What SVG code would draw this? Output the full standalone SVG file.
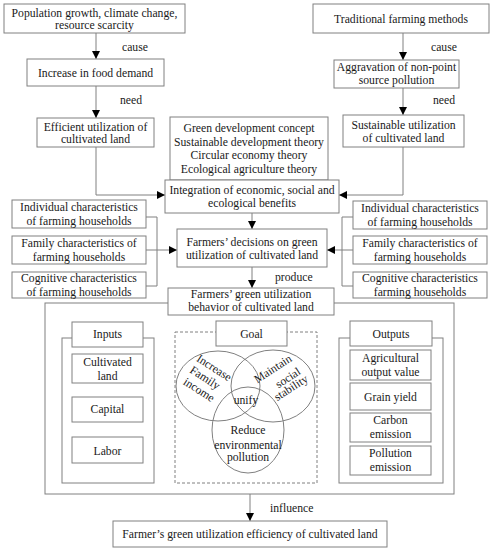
<svg xmlns="http://www.w3.org/2000/svg" width="492" height="550" viewBox="0 0 492 550">
<defs>
<marker id="arr" markerUnits="userSpaceOnUse" markerWidth="9" markerHeight="9" refX="8" refY="4" orient="auto">
<path d="M0,0 L8,4 L0,8 z" fill="#000"/>
</marker>
<style>
.b{fill:#fff;stroke:#808080;stroke-width:1}
.d{fill:none;stroke:#808080;stroke-width:1;stroke-dasharray:3,2}
.e{fill:none;stroke:#808080;stroke-width:1}
.c{fill:none;stroke:#808080;stroke-width:1}
.a{fill:none;stroke:#808080;stroke-width:1;marker-end:url(#arr)}
text{font-family:"Liberation Serif","Times New Roman",serif;font-size:11.7px;fill:#1a1a1a}
.m{text-anchor:middle}
</style>
</defs>
<rect width="492" height="550" fill="#fff"/>

<g id="connectors">
<line class="a" x1="96" y1="33" x2="96" y2="59"/>
<line class="a" x1="96" y1="86" x2="96" y2="118"/>
<line class="a" x1="403" y1="33" x2="403" y2="60"/>
<line class="a" x1="403" y1="88" x2="403" y2="115"/>
<polyline class="a" points="96,147 96,195 165,195"/>
<polyline class="a" points="403,147 403,195 339,195"/>
<line class="a" x1="252" y1="213" x2="252" y2="229"/>
<line class="a" x1="252" y1="267" x2="252" y2="288"/>
<polyline class="c" points="146,217 157,217 157,286 146,286"/>
<line class="a" x1="146" y1="250" x2="177" y2="250"/>
<polyline class="c" points="353,217 342,217 342,286 353,286"/>
<line class="a" x1="353" y1="250" x2="327" y2="250"/>
<line class="a" x1="154" y1="404" x2="175" y2="404"/>
<line class="a" x1="317" y1="404" x2="339" y2="404"/>
<line class="a" x1="250" y1="494" x2="250" y2="521"/>
<text x="122" y="51">cause</text>
<text x="120" y="104">need</text>
<text x="431" y="51">cause</text>
<text x="433" y="104">need</text>
<text x="275" y="281">produce</text>
<text x="270" y="512">influence</text>
</g>

<g id="pop">
<rect class="b" x="4" y="4" width="181" height="29"/>
<text class="m" x="94.5" y="16.5">Population growth, climate change,</text>
<text class="m" x="94.5" y="29">resource scarcity</text>
</g>
<g id="food">
<rect class="b" x="27" y="59" width="137" height="27"/>
<text class="m" x="95.5" y="77">Increase in food demand</text>
</g>
<g id="efficient">
<rect class="b" x="37" y="118" width="117" height="29"/>
<text class="m" x="95.5" y="131">Efficient utilization of</text>
<text class="m" x="95.5" y="143">cultivated land</text>
</g>
<g id="traditional">
<rect class="b" x="313" y="4" width="176" height="29"/>
<text class="m" x="401" y="23">Traditional farming methods</text>
</g>
<g id="aggravation">
<rect class="b" x="334" y="60" width="125" height="28"/>
<text class="m" x="396.5" y="71">Aggravation of non-point</text>
<text class="m" x="396.5" y="84">source pollution</text>
</g>
<g id="sustainable">
<rect class="b" x="343" y="115" width="121" height="32"/>
<text class="m" x="403.5" y="129">Sustainable utilization</text>
<text class="m" x="403.5" y="142">of cultivated land</text>
</g>
<g id="theory">
<rect class="b" x="170" y="117" width="158" height="63"/>
<text class="m" x="249" y="132">Green development concept</text>
<text class="m" x="249" y="145.5">Sustainable development theory</text>
<text class="m" x="249" y="159">Circular economy theory</text>
<text class="m" x="249" y="172.5">Ecological agriculture theory</text>
</g>
<g id="integration">
<rect class="b" x="165" y="180" width="174" height="33"/>
<text class="m" x="252" y="194">Integration of economic, social and</text>
<text class="m" x="252" y="207">ecological benefits</text>
</g>
<g id="decisions">
<rect class="b" x="177" y="229" width="150" height="38"/>
<text class="m" x="252" y="246">Farmers’ decisions on green</text>
<text class="m" x="252" y="259">utilization of cultivated land</text>
</g>
<g id="left-individual">
<rect class="b" x="12" y="200" width="134" height="28"/>
<text class="m" x="79" y="211">Individual characteristics</text>
<text class="m" x="79" y="225">of farming households</text>
</g>
<g id="left-family">
<rect class="b" x="12" y="236" width="134" height="28"/>
<text class="m" x="79" y="246.5">Family characteristics of</text>
<text class="m" x="79" y="261">farming households</text>
</g>
<g id="left-cognitive">
<rect class="b" x="12" y="272" width="134" height="26"/>
<text class="m" x="79" y="281.5">Cognitive characteristics</text>
<text class="m" x="79" y="296">of farming households</text>
</g>
<g id="right-individual">
<rect class="b" x="353" y="201" width="134" height="28"/>
<text class="m" x="420" y="212">Individual characteristics</text>
<text class="m" x="420" y="226">of farming households</text>
</g>
<g id="right-family">
<rect class="b" x="353" y="236" width="134" height="28"/>
<text class="m" x="420" y="246.5">Family characteristics of</text>
<text class="m" x="420" y="261">farming households</text>
</g>
<g id="right-cognitive">
<rect class="b" x="353" y="272" width="134" height="26"/>
<text class="m" x="420" y="281.5">Cognitive characteristics</text>
<text class="m" x="420" y="296">farming households</text>
</g>

<g id="behavior-frame">
<rect class="b" x="45" y="303" width="409" height="191"/>
</g>
<g id="behavior">
<rect class="b" x="168" y="288" width="166" height="27"/>
<text class="m" x="251" y="298">Farmers’ green utilization</text>
<text class="m" x="251" y="311">behavior of cultivated land</text>
</g>

<g id="inputs">
<rect class="b" x="62" y="338" width="92" height="145"/>
<rect class="b" x="72" y="322" width="71" height="25"/>
<text class="m" x="107.5" y="338">Inputs</text>
<rect class="b" x="72" y="354" width="71" height="29"/>
<text class="m" x="107.5" y="366">Cultivated</text>
<text class="m" x="107.5" y="380">land</text>
<rect class="b" x="72" y="397" width="71" height="25"/>
<text class="m" x="107.5" y="413">Capital</text>
<rect class="b" x="72" y="437" width="71" height="26"/>
<text class="m" x="107.5" y="455">Labor</text>
</g>

<g id="goal">
<rect class="d" x="175" y="332" width="142" height="151"/>
<rect class="b" x="216" y="321" width="71" height="25"/>
<text class="m" x="251.5" y="338">Goal</text>
<ellipse class="e" cx="218" cy="386" rx="42" ry="35"/>
<ellipse class="e" cx="273" cy="386" rx="42" ry="36"/>
<ellipse class="e" cx="248" cy="430" rx="36" ry="43"/>
<text class="m" transform="translate(212,371) rotate(33)">Increase</text>
<text class="m" transform="translate(203,381) rotate(33)">Family</text>
<text class="m" transform="translate(197,393) rotate(33)">income</text>
<text class="m" transform="translate(275,372) rotate(-33)">Maintain</text>
<text class="m" transform="translate(290,381) rotate(-33)">social</text>
<text class="m" transform="translate(293,391) rotate(-33)">stability</text>
<text class="m" x="246" y="404">unify</text>
<text class="m" x="248" y="434">Reduce</text>
<text class="m" x="248" y="449">environmental</text>
<text class="m" x="248" y="461">pollution</text>
</g>

<g id="outputs">
<rect class="b" x="339" y="338" width="104" height="145"/>
<rect class="b" x="350" y="321" width="82" height="25"/>
<text class="m" x="391" y="338">Outputs</text>
<rect class="b" x="350" y="350" width="81" height="30"/>
<text class="m" x="390.5" y="362">Agricultural</text>
<text class="m" x="390.5" y="376">output value</text>
<rect class="b" x="350" y="383" width="81" height="27"/>
<text class="m" x="390.5" y="401">Grain yield</text>
<rect class="b" x="350" y="413" width="81" height="29"/>
<text class="m" x="390.5" y="424">Carbon</text>
<text class="m" x="390.5" y="438">emission</text>
<rect class="b" x="350" y="446" width="81" height="29"/>
<text class="m" x="390.5" y="457">Pollution</text>
<text class="m" x="390.5" y="471">emission</text>
</g>

<g id="efficiency">
<rect class="b" x="113" y="521" width="274" height="26"/>
<text class="m" x="250" y="538">Farmer’s green utilization efficiency of cultivated land</text>
</g>
</svg>
